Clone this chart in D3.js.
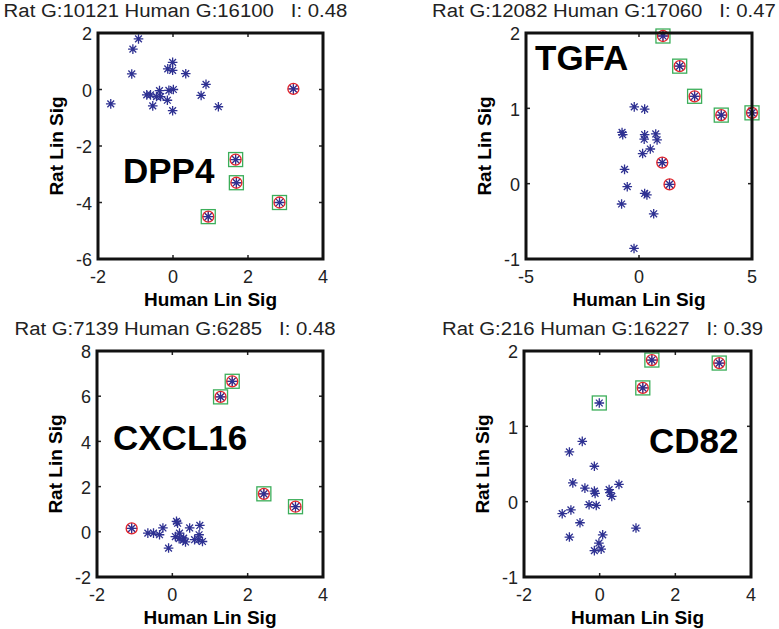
<!DOCTYPE html>
<html>
<head>
<meta charset="utf-8">
<script src="https://cdn.jsdelivr.net/npm/d3@7"></script>
<style>
  body { margin: 0; background: #fff; }
  svg { display: block; font-family: "Liberation Sans", Arial, Helvetica, sans-serif; }
</style>
</head>
<body>
<div id="chart"></div>
<script>
// panel titles and gene names
const titles = [
  "Rat G:10121 Human G:16100   I: 0.48",
  "Rat G:12082 Human G:17060   I: 0.47",
  "Rat G:7139 Human G:6285   I: 0.48",
  "Rat G:216 Human G:16227   I: 0.39"
];
const genes = ["DPP4", "TGFA", "CXCL16", "CD82"];

// axis domains and ticks
const xDomains = [[-2, 4], [-5, 5], [-2, 4], [-2, 4]];
const yDomains = [[-6, 2], [-1, 2], [-2, 8], [-1, 2]];
const xTicks = [[-2, 0, 2, 4], [-5, 0, 5], [-2, 0, 2, 4], [-2, 0, 2, 4]];
const yTicks = [[-6, -4, -2, 0, 2], [-1, 0, 1, 2], [-2, 0, 2, 4, 6, 8], [-1, 0, 1, 2]];

// points: [human, rat, flag]  flag: 0 = plain, 1 = red circle, 2 = red circle + green box, 3 = green box only
const dpp4 = [
  [-1.66, -0.51, 0], [-0.92, 1.79, 0], [-1.07, 1.43, 0], [-1.10, 0.55, 0], [-0.01, 0.96, 0],
  [-0.14, 0.73, 0], [-0.01, 0.68, 0], [0.34, 0.56, 0], [0.88, 0.18, 0], [0.75, -0.21, 0],
  [1.21, -0.61, 0], [0.01, 0.0, 0], [-0.11, -0.03, 0], [-0.36, -0.04, 0], [-0.70, -0.19, 0],
  [-0.60, -0.19, 0], [-0.44, -0.25, 0], [-0.33, -0.25, 0], [-0.54, -0.58, 0], [-0.15, -0.38, 0],
  [-0.01, -0.75, 0],
  [3.21, 0.02, 1],
  [1.67, -2.48, 2], [1.69, -3.30, 2], [2.84, -4.0, 2], [0.94, -4.50, 2]
];
const tgfa = [
  [-0.21, 1.02, 0], [0.25, 0.99, 0], [-0.75, 0.68, 0], [-0.72, 0.65, 0], [0.25, 0.65, 0],
  [0.74, 0.66, 0], [0.23, 0.59, 0], [0.80, 0.58, 0], [0.50, 0.46, 0], [0.16, 0.40, 0],
  [-0.64, 0.19, 0], [-0.52, -0.04, 0], [0.25, -0.13, 0], [0.35, -0.15, 0], [-0.77, -0.27, 0],
  [0.65, -0.40, 0], [-0.22, -0.86, 0],
  [1.03, 0.28, 1], [1.35, -0.01, 1],
  [1.06, 1.96, 2], [1.80, 1.56, 2], [2.46, 1.16, 2], [3.64, 0.91, 2], [5.0, 0.94, 2]
];
const cxcl16 = [
  [-0.65, -0.06, 0], [-0.50, -0.06, 0], [-0.34, -0.13, 0], [-0.25, 0.17, 0], [-0.10, -0.72, 0],
  [0.11, 0.46, 0], [0.14, 0.38, 0], [0.08, -0.21, 0], [0.19, -0.06, 0], [0.30, -0.28, 0],
  [0.29, -0.37, 0], [0.35, -0.45, 0], [0.46, 0.17, 0], [0.59, -0.35, 0], [0.73, 0.28, 0],
  [0.71, -0.13, 0], [0.70, -0.35, 0], [0.80, -0.43, 0], [0.18, -0.30, 0],
  [-1.08, 0.15, 1],
  [1.59, 6.66, 2], [1.28, 5.97, 2], [2.43, 1.68, 2], [3.27, 1.11, 2]
];
const cd82 = [
  [-0.46, 0.80, 0], [-0.80, 0.66, 0], [-0.14, 0.47, 0], [-0.71, 0.25, 0], [-0.39, 0.18, 0],
  [-0.14, 0.14, 0], [-0.12, 0.11, 0], [0.25, 0.16, 0], [0.27, 0.12, 0], [0.32, 0.07, 0],
  [0.51, 0.23, 0], [-0.28, -0.04, 0], [-0.09, -0.05, 0], [-0.76, -0.11, 0], [-0.99, -0.16, 0],
  [-0.52, -0.28, 0], [0.96, -0.35, 0], [-0.80, -0.47, 0], [0.08, -0.44, 0], [-0.02, -0.55, 0],
  [0.04, -0.63, 0], [-0.14, -0.65, 0],
  [-0.01, 1.31, 3],
  [1.38, 1.88, 2], [1.14, 1.51, 2], [3.16, 1.84, 2]
];
const panelData = [dpp4, tgfa, cxcl16, cd82];

// layout (plot boxes in pixels and gene label offsets)
const boxes = [
  { left: 98, right: 323, top: 33, bottom: 259 },
  { left: 526, right: 752, top: 33, bottom: 259 },
  { left: 97, right: 323, top: 351, bottom: 577 },
  { left: 524, right: 751, top: 351, bottom: 577 }
];
const geneOffsets = [[25, 150], [9, 37], [16, 99], [125, 102]];

const width = 779, height = 629;
const blue = "#2e3192", red = "#e2232a", green = "#3cae5a";

const svg = d3.select("#chart").append("svg")
  .attr("width", width)
  .attr("height", height);

function asterisk(r) {
  const d = r * Math.SQRT1_2;
  return `M${-r},0L${r},0M0,${-r}L0,${r}M${-d},${-d}L${d},${d}M${-d},${d}L${d},${-d}`;
}

boxes.forEach(function(b, i) {
  const x = d3.scaleLinear().domain(xDomains[i]).range([b.left, b.right]);
  const y = d3.scaleLinear().domain(yDomains[i]).range([b.bottom, b.top]);
  const g = svg.append("g");
  const cx = (b.left + b.right) / 2, cy = (b.top + b.bottom) / 2;

  // title, a bit wider than the font gives
  const t = g.append("text")
    .attr("x", cx - 35)
    .attr("y", b.top - 16)
    .attr("text-anchor", "middle")
    .style("white-space", "pre")
    .style("font-size", "18px")
    .attr("fill", "#222")
    .text(titles[i]);
  const len = t.node().getComputedTextLength();
  t.attr("textLength", len * 1.13).attr("lengthAdjust", "spacingAndGlyphs");

  // inner tick marks on all four sides
  const tk = 4;
  xTicks[i].forEach(function(v) {
    g.append("line").attr("x1", x(v)).attr("x2", x(v)).attr("y1", b.bottom).attr("y2", b.bottom - tk)
      .attr("stroke", "#222").attr("stroke-width", 1.5);
    g.append("line").attr("x1", x(v)).attr("x2", x(v)).attr("y1", b.top).attr("y2", b.top + tk)
      .attr("stroke", "#222").attr("stroke-width", 1.5);
    g.append("text").attr("x", x(v)).attr("y", b.bottom + 24)
      .attr("text-anchor", "middle").style("font-size", "18px").attr("fill", "#222")
      .text(v);
  });
  yTicks[i].forEach(function(v) {
    g.append("line").attr("x1", b.left).attr("x2", b.left + tk).attr("y1", y(v)).attr("y2", y(v))
      .attr("stroke", "#222").attr("stroke-width", 1.5);
    g.append("line").attr("x1", b.right).attr("x2", b.right - tk).attr("y1", y(v)).attr("y2", y(v))
      .attr("stroke", "#222").attr("stroke-width", 1.5);
    g.append("text").attr("x", b.left - 6).attr("y", y(v)).attr("dy", "0.4em")
      .attr("text-anchor", "end").style("font-size", "18px").attr("fill", "#222")
      .text(v);
  });

  // axis labels
  g.append("text")
    .attr("x", cx).attr("y", b.bottom + 47)
    .attr("text-anchor", "middle")
    .style("font-size", "19px").style("font-weight", "bold")
    .text("Human Lin Sig");
  g.append("text")
    .attr("transform", `translate(${b.left - 35},${cy}) rotate(-90)`)
    .attr("text-anchor", "middle")
    .style("font-size", "19px").style("font-weight", "bold")
    .text("Rat Lin Sig");

  // gene name
  g.append("text")
    .attr("x", b.left + geneOffsets[i][0]).attr("y", b.top + geneOffsets[i][1])
    .style("font-size", "35px").style("font-weight", "bold")
    .text(genes[i]);

  const pts = panelData[i];

  // green boxes
  g.selectAll(".box")
    .data(pts.filter(d => d[2] >= 2))
    .enter().append("rect")
    .attr("x", d => x(d[0]) - 7).attr("y", d => y(d[1]) - 7)
    .attr("width", 14).attr("height", 14)
    .attr("fill", "none").attr("stroke", green).attr("stroke-width", 1.3);

  // red circles with red spokes
  const reds = pts.filter(d => d[2] === 1 || d[2] === 2);
  g.selectAll(".spoke")
    .data(reds)
    .enter().append("path")
    .attr("transform", d => `translate(${x(d[0])},${y(d[1])})`)
    .attr("d", asterisk(5.5))
    .attr("stroke", red).attr("stroke-width", 1);
  g.selectAll(".ring")
    .data(reds)
    .enter().append("circle")
    .attr("cx", d => x(d[0])).attr("cy", d => y(d[1]))
    .attr("r", 5.5)
    .attr("fill", "none").attr("stroke", red).attr("stroke-width", 1.3);

  // blue asterisks
  g.selectAll(".star")
    .data(pts)
    .enter().append("path")
    .attr("transform", d => `translate(${x(d[0])},${y(d[1])})`)
    .attr("d", asterisk(4.8))
    .attr("stroke", blue).attr("stroke-width", 1.3).attr("fill", "none");

  // box frame
  g.append("rect")
    .attr("x", b.left).attr("y", b.top)
    .attr("width", b.right - b.left).attr("height", b.bottom - b.top)
    .attr("fill", "none").attr("stroke", "#111").attr("stroke-width", 3);
});
</script>
</body>
</html>
